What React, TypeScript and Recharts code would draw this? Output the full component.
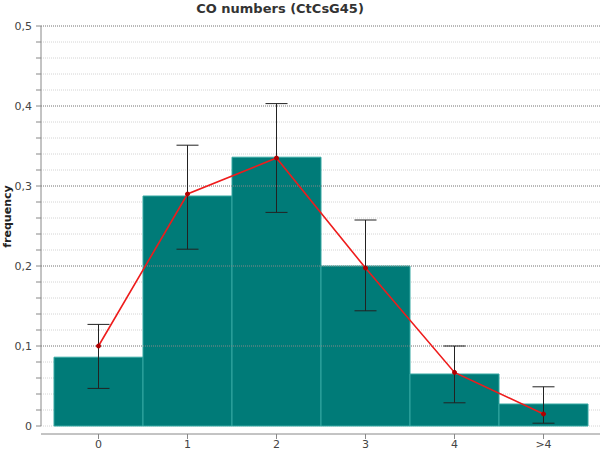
import React from 'react';
import { ComposedChart, Bar, Line, XAxis, YAxis, CartesianGrid, ErrorBar, ReferenceLine } from 'recharts';

const categories = ['0', '1', '2', '3', '4', '>4'];
const barValues = [0.086, 0.2875, 0.336, 0.2, 0.065, 0.0275];
const lineValues = [0.1, 0.29, 0.335, 0.1975, 0.067, 0.015];
const errLow = [0.047, 0.221, 0.267, 0.144, 0.029, 0.0035];
const errHigh = [0.127, 0.351, 0.403, 0.2575, 0.1, 0.049];
const yTicks = [0, 0.02, 0.04, 0.06, 0.08, 0.1, 0.12, 0.14, 0.16, 0.18, 0.2, 0.22, 0.24, 0.26, 0.28, 0.3, 0.32, 0.34, 0.36, 0.38, 0.4, 0.42, 0.44, 0.46, 0.48, 0.5];
const majorTicks = [0.1, 0.2, 0.3, 0.4, 0.5];

const data = categories.map((c, i) => ({
  cat: c,
  bar: barValues[i],
  line: lineValues[i],
  err: [lineValues[i] - errLow[i], errHigh[i] - lineValues[i]],
}));

const FONT = '"DejaVu Sans", sans-serif';

const isMajor = (v: number) => Math.abs(v * 10 - Math.round(v * 10)) < 1e-6;

const YTick = (props: any) => {
  const { x, y, payload } = props;
  const v = payload.value;
  if (!isMajor(v)) return null;
  const label = v === 0 ? '0' : v.toFixed(1).replace('.', ',');
  return (
    <text x={x - 2} y={y} dy={4} textAnchor="end" fontSize={11} fill="#444" fontFamily={FONT}>
      {label}
    </text>
  );
};

const XTick = (props: any) => {
  const { x, payload, yBase } = props;
  return (
    <g>
      <line x1={x} x2={x} y1={yBase + 8} y2={yBase + 13} stroke="#888" strokeWidth={1} />
      <text x={x} y={yBase + 22} textAnchor="middle" fontSize={11} fill="#444" fontFamily={FONT}>
        {payload.value}
      </text>
    </g>
  );
};

const PLOT_BOTTOM = 426;

export default function App() {
  return (
    <div style={{ position: 'absolute', left: 0, top: 0, width: 600, height: 450, background: '#fff' }}>
      <div
        style={{
          position: 'absolute',
          left: 180,
          width: 200,
          top: 1,
          textAlign: 'center',
          fontFamily: FONT,
          fontWeight: 'bold',
          fontSize: 13,
          color: '#333',
        }}
      >
        CO numbers (CtCsG45)
      </div>
      <div
        style={{
          position: 'absolute',
          left: -33,
          top: 210,
          width: 80,
          textAlign: 'center',
          transform: 'rotate(-90deg)',
          fontFamily: FONT,
          fontWeight: 'bold',
          fontSize: 11,
          color: '#222',
        }}
      >
        frequency
      </div>
      <ComposedChart
        width={600}
        height={450}
        data={data}
        margin={{ top: 26, right: 0, bottom: 0, left: 0 }}
        barCategoryGap={0}
        barGap={0}
      >
        <CartesianGrid vertical={false} stroke="#d4d4d4" strokeDasharray="1 1" />
        {majorTicks.map((t) => (
          <ReferenceLine key={t} y={t} stroke="#888" strokeDasharray="1 1" ifOverflow="extendDomain" />
        ))}
        <XAxis
          dataKey="cat"
          height={24}
          padding={{ left: 13, right: 12 }}
          tickLine={false}
          axisLine={{ stroke: '#888', transform: 'translate(0,8)' } as any}
          tick={<XTick yBase={PLOT_BOTTOM} />}
          interval={0}
        />
        <YAxis
          width={41}
          domain={[0, 0.5]}
          ticks={yTicks}
          interval={0}
          tickSize={5}
          tickLine={{ stroke: '#888' }}
          axisLine={{ stroke: '#888' }}
          tick={<YTick />}
        />
        <Bar dataKey="bar" fill="#007b78" stroke="#35a8a2" strokeWidth={1} isAnimationActive={false} />
        <Line
          dataKey="line"
          stroke="#ee1c1c"
          strokeWidth={1.6}
          dot={{ r: 2, fill: '#b00000', stroke: '#b00000', strokeWidth: 1 }}
          isAnimationActive={false}
        >
          <ErrorBar dataKey="err" direction="y" width={11} stroke="#222" strokeWidth={1} />
        </Line>
      </ComposedChart>
    </div>
  );
}
